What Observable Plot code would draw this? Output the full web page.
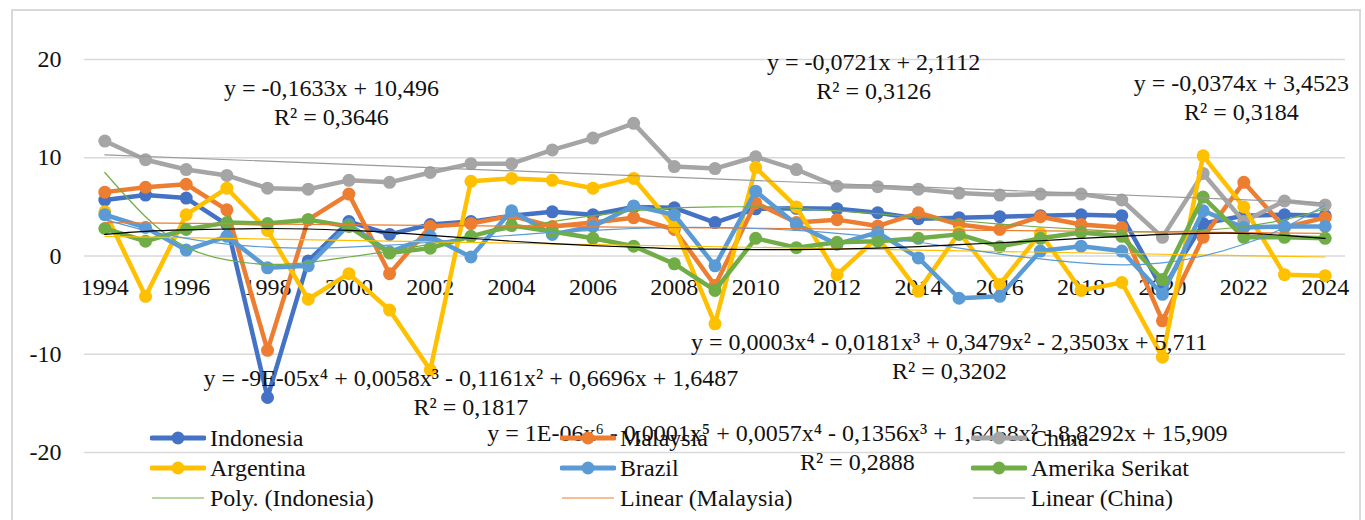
<!DOCTYPE html>
<html>
<head>
<meta charset="utf-8">
<script src="https://cdn.jsdelivr.net/npm/d3@7"></script>
<script src="https://cdn.jsdelivr.net/npm/@observablehq/plot@0.6"></script>
<style>
  html, body { margin: 0; padding: 0; background: #fff; }
  #wrap { position: relative; width: 1365px; height: 520px; overflow: hidden; font-family: "Liberation Serif", serif; color: #111; }
  #frame { position: absolute; left: 11px; top: 9px; width: 1350px; height: 560px; border: 2px solid #D9D9D9; box-sizing: border-box; }
  #chart { position: absolute; left: 0; top: 0; }
  .leg { position: absolute; display: flex; align-items: center; font-size: 24px; line-height: 30px; height: 30px; white-space: nowrap; }
  .leg svg { margin-right: 4px; }
</style>
</head>
<body>
<div id="wrap">
  <div id="frame"></div>
  <div id="chart"></div>
</div>
<script>
// ---- data ----
const years = d3.range(1994, 2025);
const xTickYears = d3.range(1994, 2025, 2);
const yTicks = [-20, -10, 0, 10, 20];

const indonesia = [5.7, 6.2, 5.9, 3.2, -14.4, -0.5, 3.5, 2.2, 3.2, 3.5, 4.1, 4.5, 4.2, 5.0, 4.9, 3.4, 4.8, 4.85, 4.8, 4.4, 3.8, 3.9, 4.0, 4.1, 4.2, 4.1, -3.4, 3.3, 4.1, 4.2, 4.1];
const malaysia  = [6.5, 7.0, 7.3, 4.7, -9.6, 3.7, 6.3, -1.8, 3.0, 3.3, 4.1, 3.0, 3.4, 3.9, 2.7, -3.0, 5.4, 3.4, 3.7, 3.05, 4.4, 3.2, 2.7, 4.0, 3.2, 2.9, -6.6, 1.9, 7.5, 2.9, 3.9];
const china     = [11.7, 9.8, 8.8, 8.2, 6.9, 6.8, 7.7, 7.5, 8.5, 9.4, 9.4, 10.8, 12.0, 13.5, 9.1, 8.9, 10.1, 8.8, 7.1, 7.05, 6.8, 6.4, 6.2, 6.3, 6.3, 5.7, 1.9, 8.4, 3.5, 5.6, 5.2];
const argentina = [4.5, -4.1, 4.2, 6.9, 2.6, -4.4, -1.8, -5.5, -11.6, 7.6, 7.9, 7.7, 6.9, 7.9, 3.0, -6.9, 9.0, 5.0, -1.9, 1.9, -3.6, 2.4, -2.9, 2.3, -3.5, -2.7, -10.3, 10.2, 5.0, -1.9, -2.0];
const brazil    = [4.2, 2.9, 0.6, 2.0, -1.2, -1.0, 3.2, 0.4, 2.0, -0.1, 4.6, 2.2, 3.0, 5.1, 4.2, -1.0, 6.6, 3.2, 1.2, 2.4, -0.2, -4.3, -4.1, 0.5, 1.0, 0.5, -3.9, 4.6, 2.9, 3.0, 3.0];
const amerika   = [2.8, 1.5, 2.7, 3.4, 3.3, 3.7, 3.0, 0.3, 0.8, 2.0, 3.1, 2.5, 1.8, 1.0, -0.8, -3.5, 1.8, 0.85, 1.4, 1.5, 1.8, 2.2, 0.95, 1.8, 2.4, 2.0, -2.4, 6.0, 1.9, 1.9, 1.8];

// trendlines
const trendIndonesiaPoly = [8.5, 4.0, 0.9, -0.4, -0.85, -0.65, -0.1, 0.5, 1.2, 2.0, 2.8, 3.5, 4.1, 4.6, 4.9, 5.0, 5.0, 4.85, 4.6, 4.3, 3.95, 3.6, 3.25, 2.95, 2.7, 2.5, 2.45, 2.6, 3.0, 3.7, 4.8];
const trendBrazilPoly    = [3.7, 2.6, 1.8, 1.2, 0.9, 0.8, 0.9, 1.1, 1.4, 1.8, 2.1, 2.4, 2.6, 2.8, 2.9, 2.9, 2.8, 2.6, 2.3, 1.9, 1.4, 0.8, 0.2, -0.3, -0.7, -0.9, -0.7, 0.0, 1.2, 2.9, 5.2];
const trendAmerikaPoly   = [2.2, 2.5, 2.65, 2.75, 2.8, 2.75, 2.6, 2.4, 2.1, 1.8, 1.5, 1.25, 1.05, 0.9, 0.75, 0.7, 0.65, 0.65, 0.7, 0.8, 0.95, 1.15, 1.35, 1.55, 1.8, 2.0, 2.2, 2.3, 2.3, 2.1, 1.8];
const trendLinearYears     = [1994, 2024];
const trendChinaLinear     = [10.3, 5.4];
const trendMalaysiaLinear  = [3.4, 2.3];
const trendArgentinaLinear = [2.0, -0.1];

const eqLabels = [
  "y = -0,1633x + 10,496\nR² = 0,3646",
  "y = -0,0721x + 2,1112\nR² = 0,3126",
  "y = -0,0374x + 3,4523\nR² = 0,3184",
  "y = 1E-06x⁶ - 0,0001x⁵ + 0,0057x⁴ - 0,1356x³ + 1,6458x² - 8,8292x + 15,909\nR² = 0,2888",
  "y = 0,0003x⁴ - 0,0181x³ + 0,3479x² - 2,3503x + 5,711\nR² = 0,3202",
  "y = -9E-05x⁴ + 0,0058x³ - 0,1161x² + 0,6696x + 1,6487\nR² = 0,1817"
];
const eqX = [1999.57, 2012.9, 2021.94, 2012.5, 2014.76, 2003.0];
const eqY = [15.77, 18.41, 16.28, -19.33, -10.07, -13.73];

const seriesNames = ["Indonesia", "Malaysia", "China", "Argentina", "Brazil", "Amerika Serikat"];
const seriesValues = [indonesia, malaysia, china, argentina, brazil, amerika];
const seriesColors = ["#4472C4", "#ED7D31", "#A5A5A5", "#FFC000", "#5B9BD5", "#70AD47"];

// ---- build ----
const toRows = (vals, yrs = years) => vals.map((v, i) => ({year: yrs[i], value: v}));

const seriesMarks = seriesValues.flatMap((vals, i) => {
  const rows = toRows(vals);
  return [
    Plot.line(rows, {x: "year", y: "value", stroke: seriesColors[i], strokeWidth: 4.5, strokeLinejoin: "round", strokeLinecap: "round"}),
    Plot.dot(rows, {x: "year", y: "value", r: 6.5, fill: seriesColors[i], stroke: "none"})
  ];
});

const trends = [
  {vals: trendIndonesiaPoly, yrs: years, color: "#70AD47"},
  {vals: trendMalaysiaLinear, yrs: trendLinearYears, color: "#ED7D31"},
  {vals: trendChinaLinear, yrs: trendLinearYears, color: "#9A9A9A"},
  {vals: trendArgentinaLinear, yrs: trendLinearYears, color: "#FFC000"},
  {vals: trendBrazilPoly, yrs: years, color: "#5B9BD5"},
  {vals: trendAmerikaPoly, yrs: years, color: "#000000"}
];
const trendMarks = trends.map(t => Plot.line(toRows(t.vals, t.yrs), {x: "year", y: "value", stroke: t.color, strokeWidth: 1.2, curve: "natural"}));

const eqRows = eqLabels.map((t, i) => ({x: eqX[i], y: eqY[i], text: t}));

const chart = Plot.plot({
  width: 1365,
  height: 520,
  marginLeft: 84,
  marginRight: 20,
  marginTop: 59,
  marginBottom: 68,
  style: {fontFamily: "'Liberation Serif', serif", fontSize: "24px", background: "transparent", color: "#111", overflow: "visible"},
  x: {type: "linear", domain: [1993.5, 2024.5], axis: null},
  y: {domain: [-20, 20], axis: null},
  marks: [
    Plot.gridY(yTicks, {stroke: "#D9D9D9", strokeOpacity: 1, strokeWidth: 1.5}),
    Plot.axisY(yTicks, {tickSize: 0, tickPadding: 23, tickFormat: d => String(d), fontSize: 24, fill: "#111", label: null}),
    Plot.text(xTickYears, {x: d => d, y: d => 0, dy: 31, text: d => String(d), fontSize: 24, fill: "#111"}),
    ...seriesMarks,
    ...trendMarks,
    Plot.text(eqRows, {x: "x", y: "y", text: "text", fontSize: 24, lineHeight: 1.22, textAnchor: "middle", fill: "#111"})
  ]
});
document.getElementById("chart").appendChild(chart);

// ---- legend (HTML overlay, 3 columns) ----
const legendItems = [
  {name: seriesNames[0], color: seriesColors[0], kind: "series"},
  {name: seriesNames[1], color: seriesColors[1], kind: "series"},
  {name: seriesNames[2], color: seriesColors[2], kind: "series"},
  {name: seriesNames[3], color: seriesColors[3], kind: "series"},
  {name: seriesNames[4], color: seriesColors[4], kind: "series"},
  {name: seriesNames[5], color: seriesColors[5], kind: "series"},
  {name: "Poly. (Indonesia)", color: "#70AD47", kind: "trend"},
  {name: "Linear (Malaysia)", color: "#ED7D31", kind: "trend"},
  {name: "Linear (China)", color: "#9A9A9A", kind: "trend"}
];
const colLeft = [150, 560, 971];
const rowTop = [423, 453, 483];
const wrap = document.getElementById("wrap");
legendItems.forEach((it, i) => {
  const d = document.createElement("div");
  d.className = "leg";
  d.style.left = colLeft[i % 3] + "px";
  d.style.top = rowTop[Math.floor(i / 3)] + "px";
  const sw = it.kind === "series"
    ? `<svg width="56" height="30"><line x1="2" y1="15" x2="54" y2="15" stroke="${it.color}" stroke-width="5" stroke-linecap="round"/><circle cx="28" cy="15" r="6.5" fill="${it.color}"/></svg>`
    : `<svg width="56" height="30"><line x1="2" y1="15" x2="54" y2="15" stroke="${it.color}" stroke-width="1.2"/></svg>`;
  d.innerHTML = sw + `<span>${it.name}</span>`;
  wrap.appendChild(d);
});
</script>
</body>
</html>
